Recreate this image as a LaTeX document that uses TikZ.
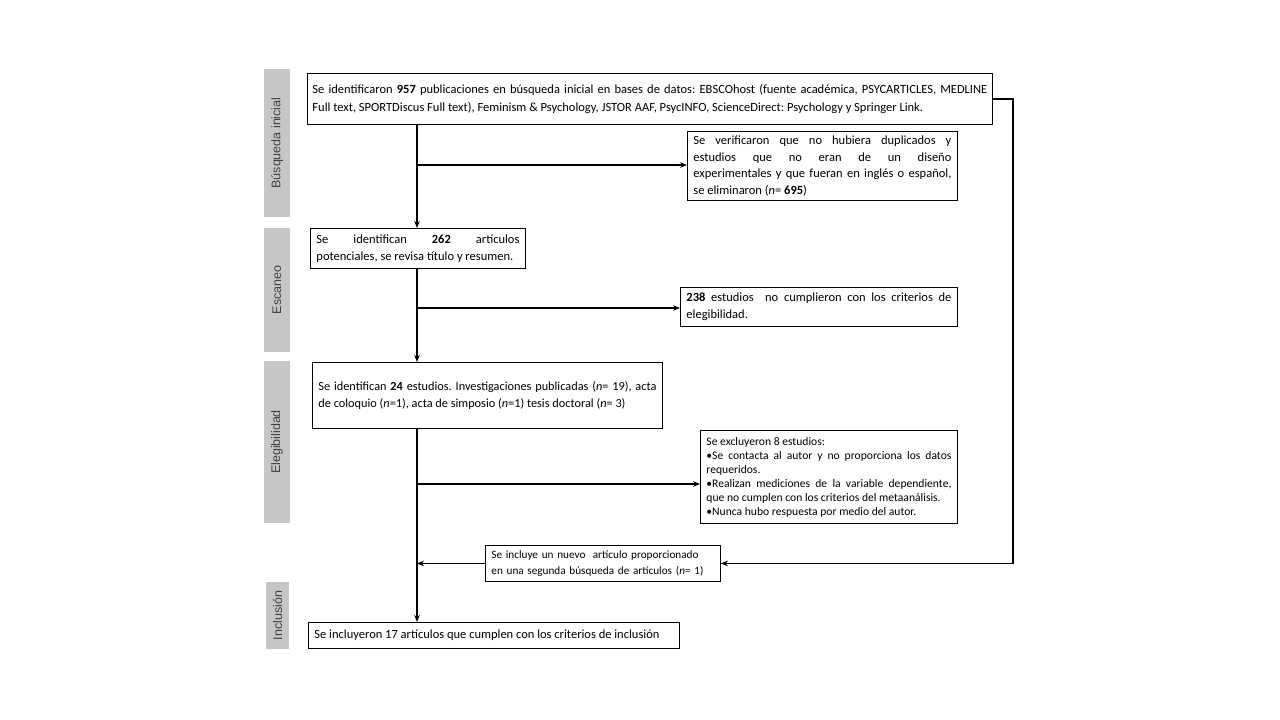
\documentclass[tikz,border=0pt]{standalone}
\usepackage{fontspec}
\setmainfont{Carlito}
\newfontfamily\phasefont{Liberation Sans}
\usetikzlibrary{arrows.meta,positioning,calc}
\frenchspacing

\begin{document}
\begin{tikzpicture}[x=1pt, y=-1pt,
    box/.style={draw=black, line width=0.9pt, fill=white, anchor=north west, align=justify, inner ysep=0pt, inner xsep=6pt, font=\fontsize{12.5}{16.5}\selectfont},
    phase/.style={fill=gray!45, rotate=90, inner sep=0pt, text=black!75, font=\phasefont\fontsize{12.5}{14}\selectfont},
    flow/.style={-{Stealth[length=7pt,width=5.5pt]}, line width=1.8pt}
]
\useasboundingbox[fill=white] (0,0) rectangle (1280,720);

% Phases
\node[phase, minimum width=148pt, minimum height=26pt] (ph1) at (277,143) {Búsqueda inicial};
\node[phase, minimum width=124pt, minimum height=26pt] (ph2) at (277,290) {Escaneo};
\node[phase, minimum width=162pt, minimum height=26pt] (ph3) at (277,442) {Elegibilidad};
\node[phase, minimum width=67pt, minimum height=23pt] (ph4) at (277.5,615.5) {Inclusión};

% Main boxes
\node[box, inner xsep=5pt, text width=675pt, minimum height=51pt, font=\fontsize{12.5}{18.5}\selectfont] (b1) at (307,73) {Se identificaron \textbf{957} publicaciones en búsqueda inicial en bases de datos: EBSCOhost (fuente académica, PSYCARTICLES, MEDLINE\linebreak Full text, SPORTDiscus Full text), Feminism \& Psychology, JSTOR AAF, PsycINFO, ScienceDirect: Psychology y Springer Link.};
\node[box, text width=203pt, minimum height=40pt] (b2) at (310,228) {Se identifican \textbf{262} artículos\linebreak potenciales, se revisa título y resumen.};
\node[box, text width=338pt, minimum height=66pt, font=\fontsize{12.3}{17}\selectfont] (b3) at (312,362) {Se identifican \textbf{24} estudios. Investigaciones publicadas (\textit{n}= 19), acta\linebreak de coloquio (\textit{n}=1), acta de simposio (\textit{n}=1) tesis doctoral (\textit{n}= 3)};
\node[box, text width=359pt, minimum height=26pt] (b4) at (308,622) {Se incluyeron 17 artículos que cumplen con los criterios de inclusión};

% Side boxes
\node[box, text width=258pt, minimum height=69pt] (rm1) at (687,131) {Se verificaron que no hubiera duplicados y\linebreak estudios que no eran de un diseño\linebreak experimentales y que fueran en inglés o español,\linebreak se eliminaron (\textit{n}= \textbf{695})};
\node[box, text width=265pt, minimum height=39pt] (rm2) at (680,287) {\textbf{238} estudios\ \ no cumplieron con los criterios de\linebreak elegibilidad.};
\node[box, text width=245pt, minimum height=93pt, font=\fontsize{11.6}{14}\selectfont] (rm3) at (700,430) {Se excluyeron 8 estudios:\\ \textbullet Se contacta al autor y no proporciona los datos\linebreak requeridos.\\ \textbullet Realizan mediciones de la variable dependiente,\linebreak que no cumplen con los criterios del metaanálisis.\\ \textbullet Nunca hubo respuesta por medio del autor.};
\node[box, align=left, text width=223pt, minimum height=36pt, font=\fontsize{11.2}{16}\selectfont] (add) at (485,545) {Se incluye un nuevo\ \ artículo proporcionado\\ en una segunda búsqueda de artículos (\textit{n}= 1)};

% Junctions
\coordinate (j1) at (417,165);
\coordinate (j2) at (417,308);
\coordinate (j3) at (417,484);
\coordinate (r) at (1013,98);

% Connectors
\draw[flow] (b1.south -| j1) -- (b2.north -| j1);
\draw[flow] (j1) -- (j1 -| rm1.west);
\draw[flow] (b2.south -| j2) -- (b3.north -| j2);
\draw[flow] (j2) -- (j2 -| rm2.west);
\draw[flow] (b3.south -| j3) -- (b4.north -| j3);
\draw[flow] (j3) -- (j3 -| rm3.west);
\draw[flow] (add.west) -- (add.west -| j3);
\draw[flow] (b1.east) -- (b1.east -| r) -- (r |- add.east) -- (add.east);

\end{tikzpicture}
\end{document}
